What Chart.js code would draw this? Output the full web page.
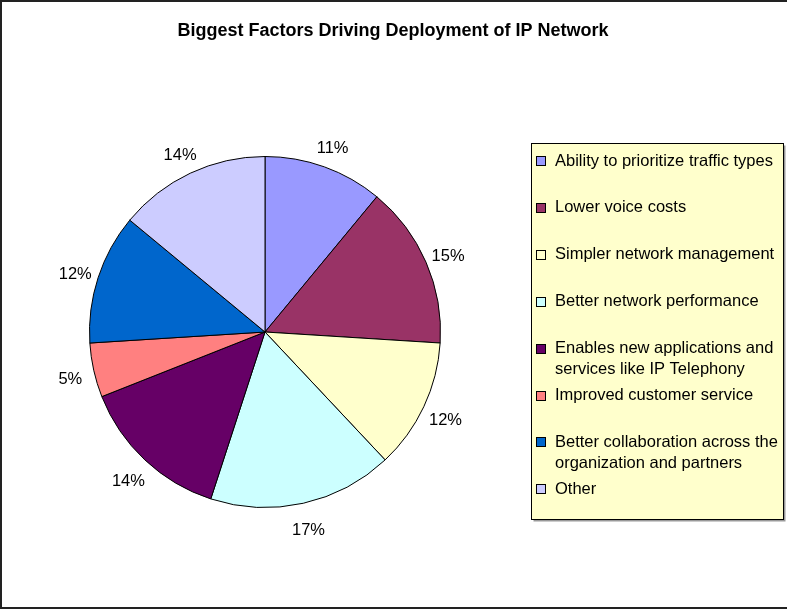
<!DOCTYPE html>
<html lang="en">
<head>
    <meta charset="UTF-8">
    <title>Biggest Factors Driving Deployment of IP Network</title>
    <style>
        body {
            margin: 0;
            background-color: white;
            font-family: "Liberation Sans", Arial, sans-serif;
        }
    </style>
</head>
<body>
    <canvas id="pieChart" width="787" height="610"></canvas>

    <script src="https://cdn.jsdelivr.net/npm/chart.js"></script>
    <script>
        // Chart data
        const chartTitle = 'Biggest Factors Driving Deployment of IP Network';
        const categories = [
            'Ability to prioritize traffic types',
            'Lower voice costs',
            'Simpler network management',
            'Better network performance',
            'Enables new applications and services like IP Telephony',
            'Improved customer service',
            'Better collaboration across the organization and partners',
            'Other'
        ];
        const shares = [11, 15, 12, 17, 14, 5, 12, 14];
        const sliceColors = ['#9999FF', '#993366', '#FFFFCC', '#CCFFFF', '#660066', '#FF8080', '#0066CC', '#CCCCFF'];

        const FONT = '"Liberation Sans", Arial, sans-serif';

        // wrap a legend label into lines that fit the legend box
        function wrapText(ctx, text, maxWidth) {
            const words = text.split(' ');
            const lines = [];
            let line = '';
            words.forEach(w => {
                const test = line ? line + ' ' + w : w;
                if (line && ctx.measureText(test).width > maxWidth) {
                    lines.push(line);
                    line = w;
                } else {
                    line = test;
                }
            });
            if (line) lines.push(line);
            return lines;
        }

        // title, frame, percent labels and the boxed legend
        const excelLook = {
            id: 'excelLook',
            beforeDraw(chart) {
                const ctx = chart.ctx;
                ctx.save();
                ctx.fillStyle = '#fff';
                ctx.fillRect(0, 0, chart.width, chart.height);
                ctx.strokeStyle = '#222';
                ctx.lineWidth = 2;
                ctx.strokeRect(1, 1, chart.width + 10, chart.height - 3);
                ctx.restore();
            },
            afterDraw(chart) {
                const ctx = chart.ctx;
                const meta = chart.getDatasetMeta(0);
                const data = chart.data.datasets[0].data;
                ctx.save();

                // title
                ctx.fillStyle = '#000';
                ctx.font = 'bold 18px ' + FONT;
                ctx.textAlign = 'center';
                ctx.textBaseline = 'middle';
                ctx.fillText(chartTitle, 393, 31);

                // percent labels outside each slice
                ctx.font = '16.5px ' + FONT;
                meta.data.forEach((arc, i) => {
                    const p = arc.getProps(['x', 'y', 'startAngle', 'endAngle', 'outerRadius'], true);
                    const mid = (p.startAngle + p.endAngle) / 2;
                    const r = p.outerRadius + 24;
                    ctx.fillText(data[i] + '%', p.x + Math.cos(mid) * r, p.y + Math.sin(mid) * r + 4);
                });

                // legend box
                const box = {x: 531.5, y: 143.5, w: 252, h: 376};
                ctx.fillStyle = '#999';
                ctx.fillRect(box.x + 2, box.y + 2, box.w, box.h);
                ctx.fillStyle = '#FFFFCC';
                ctx.fillRect(box.x, box.y, box.w, box.h);
                ctx.strokeStyle = '#000';
                ctx.lineWidth = 1;
                ctx.strokeRect(box.x, box.y, box.w, box.h);

                ctx.textAlign = 'left';
                ctx.font = '16.5px ' + FONT;
                chart.data.labels.forEach((label, i) => {
                    const cy = 161 + i * 46.9;
                    ctx.fillStyle = sliceColors[i];
                    ctx.fillRect(536.5, Math.round(cy) - 4.5, 9, 9);
                    ctx.strokeStyle = '#000';
                    ctx.strokeRect(536.5, Math.round(cy) - 4.5, 9, 9);
                    ctx.fillStyle = '#000';
                    wrapText(ctx, label, 228).forEach((line, j) => {
                        ctx.fillText(line, 555, cy + j * 21);
                    });
                });
                ctx.restore();
            }
        };

        const ctx = document.getElementById('pieChart').getContext('2d');
        const pieChart = new Chart(ctx, {
            type: 'pie',
            data: {
                labels: categories,
                datasets: [{
                    data: shares,
                    backgroundColor: sliceColors,
                    borderColor: '#000',
                    borderWidth: 1
                }]
            },
            options: {
                responsive: false,
                animation: false,
                events: [],
                layout: {
                    padding: {left: 89, right: 346, top: 156, bottom: 102}
                },
                plugins: {
                    legend: {display: false},
                    title: {display: false},
                    tooltip: {enabled: false}
                }
            },
            plugins: [excelLook]
        });
    </script>
</body>
</html>
